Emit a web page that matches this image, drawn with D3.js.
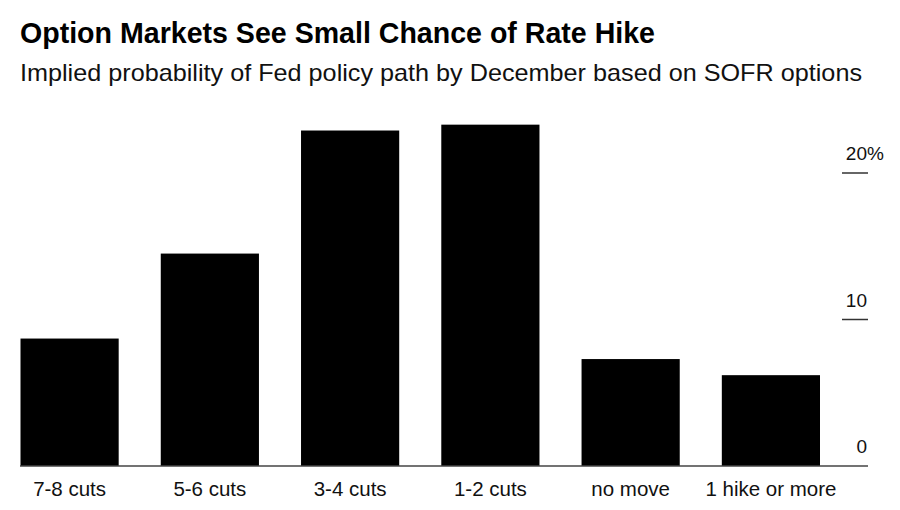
<!DOCTYPE html>
<html>
<head>
<meta charset="utf-8">
<script src="https://cdn.jsdelivr.net/npm/d3@7"></script>
<style>
  body { margin: 0; background: #fff; }
  svg { display: block; font-family: "Liberation Sans", Arial, sans-serif; }
</style>
</head>
<body>
<div id="chart"></div>
<script>
var categories = ["7-8 cuts", "5-6 cuts", "3-4 cuts", "1-2 cuts", "no move", "1 hike or more"];
var probability = [8.7, 14.5, 22.9, 23.3, 7.3, 6.2];
var yTicks = [0, 10, 20];

var width = 900,
    height = 510;

var svg = d3.select("#chart").append("svg")
    .attr("width", width)
    .attr("height", height);

// title + subtitle (condensed-looking via textLength)
svg.append("text")
    .attr("x", 20)
    .attr("y", 43)
    .attr("textLength", 635)
    .attr("lengthAdjust", "spacingAndGlyphs")
    .style("font-size", "30px")
    .style("font-weight", "bold")
    .style("fill", "#000")
    .text("Option Markets See Small Chance of Rate Hike");

svg.append("text")
    .attr("x", 20)
    .attr("y", 81)
    .attr("textLength", 842)
    .attr("lengthAdjust", "spacingAndGlyphs")
    .style("font-size", "24px")
    .style("fill", "#111")
    .text("Implied probability of Fed policy path by December based on SOFR options");

var x = d3.scaleBand()
    .domain(categories)
    .range([20.5, 820])
    .paddingInner(0.3)
    .paddingOuter(0);

var y = d3.scaleLinear()
    .domain([0, 20])
    .range([466, 173]);

// bars
svg.selectAll("rect.bar")
    .data(probability)
    .enter()
    .append("rect")
    .attr("class", "bar")
    .attr("x", function(d, i) { return x(categories[i]); })
    .attr("width", x.bandwidth())
    .attr("y", function(d) { return y(d); })
    .attr("height", function(d) { return y(0) - y(d); })
    .style("fill", "#000");

// baseline
svg.append("line")
    .attr("x1", 20)
    .attr("x2", 868)
    .attr("y1", y(0))
    .attr("y2", y(0))
    .style("stroke", "#444")
    .style("stroke-width", 1.5);

// y ticks on the right
var tick = svg.selectAll("g.ytick")
    .data(yTicks)
    .enter()
    .append("g")
    .attr("class", "ytick");

tick.filter(function(d) { return d !== 0; })
    .append("line")
    .attr("x1", 842)
    .attr("x2", 868)
    .attr("y1", function(d) { return y(d); })
    .attr("y2", function(d) { return y(d); })
    .style("stroke", "#333")
    .style("stroke-width", 1.5);

tick.append("text")
    .attr("x", 867)
    .attr("y", function(d) { return y(d) - 13; })
    .attr("text-anchor", "end")
    .style("font-size", "19px")
    .style("fill", "#111")
    .text(function(d) { return d; });

tick.filter(function(d) { return d === 20; })
    .append("text")
    .attr("x", 867)
    .attr("y", function(d) { return y(d) - 13; })
    .style("font-size", "19px")
    .style("fill", "#111")
    .text("%");

// category labels
svg.selectAll("text.xlabel")
    .data(categories)
    .enter()
    .append("text")
    .attr("class", "xlabel")
    .attr("x", function(d) { return x(d) + x.bandwidth() / 2; })
    .attr("y", 496)
    .attr("text-anchor", "middle")
    .style("font-size", "20.5px")
    .style("fill", "#111")
    .text(function(d) { return d; });
</script>
</body>
</html>
